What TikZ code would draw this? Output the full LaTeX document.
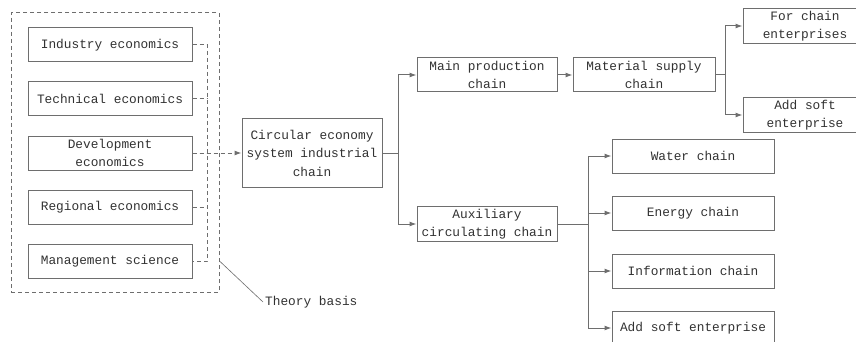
\documentclass[tikz,border=0pt]{standalone}
\usepackage{fontspec}
\setmonofont{Liberation Mono}
\usetikzlibrary{positioning,arrows.meta}
\definecolor{linegray}{RGB}{110,110,110}
\definecolor{textgray}{RGB}{50,50,50}

\begin{document}
\begin{tikzpicture}[x=1pt, y=-1pt,
  box/.style={draw=linegray, line width=1pt, minimum height=34pt, inner sep=2pt,
              align=center, text=textgray, font=\ttfamily\fontsize{12.8}{18.5}\selectfont},
  basebox/.style={box, minimum width=164pt},
  chainbox/.style={box, minimum width=140pt},
  leafbox/.style={box, minimum width=162pt},
  ln/.style={draw=linegray, line width=1pt},
  dsh/.style={ln, dash pattern=on 4pt off 3pt},
  ar/.style={ln, -{Latex[length=7pt,width=5pt]}}
]
  \useasboundingbox[fill=white] (0,0) rectangle (856,342);

  % theory basis
  \node[draw=linegray, line width=1pt, dash pattern=on 4pt off 3pt,
        minimum width=208pt, minimum height=279pt] (frame) at (115,152.5) {};
  \node[basebox] (ie) at (110,45) {Industry economics};
  \node[basebox] (te) at (110,99) {Technical economics};
  \node[basebox] (de) at (110,153) {Development\\economics};
  \node[basebox] (re) at (110,207) {Regional economics};
  \node[basebox] (ms) at (110,261) {Management science};
  \node[text=textgray, font=\ttfamily\fontsize{12.8}{15}\selectfont, anchor=west,
        inner sep=2pt] (basis) at (263,302) {Theory basis};
  \coordinate (fr) at (frame.east |- ms);

  % chains
  \node[chainbox, minimum height=68pt] (cesic) at (312,153)
    {Circular economy\\system industrial\\chain};
  \node[chainbox] (mpc) at (487,75) {Main production\\chain};
  \node[chainbox] (acc) at (487,224) {Auxiliary\\circulating chain};
  \node[box, minimum width=142pt] (msc) at (644,75) {Material supply\\chain};
  \node[box, minimum width=124pt] (fce) at (805,26) {For chain\\enterprises};
  \node[box, minimum width=124pt] (ase) at (805,115) {Add soft\\enterprise};
  \node[leafbox] (wc) at (693,156) {Water chain};
  \node[leafbox] (ec) at (693,213) {Energy chain};
  \node[leafbox] (ic) at (693,271) {Information chain};
  \node[leafbox] (asf) at (693,328) {Add soft enterprise};

  \draw[dsh] (ie.east) -- ++(15,0) |- (ms.east);
  \foreach \n in {te,de,re} \draw[dsh] (\n.east) -- ++(15,0);
  \draw[ar, dash pattern=on 4pt off 3pt] (de.east) -- (cesic.west);
  \draw[ln, line width=0.6pt] (fr) -- (basis.west);

  \draw[ln] (cesic.east) -- ++(16,0) coordinate (b1);
  \draw[ar] (b1) |- (mpc.west);
  \draw[ar] (b1) |- (acc.west);
  \draw[ar] (mpc) -- (msc);
  \draw[ln] (msc.east) -- ++(10,0) coordinate (b2);
  \draw[ar] (b2) |- (fce.west);
  \draw[ar] (b2) |- (ase.west);
  \draw[ln] (acc.east) -- ++(31,0) coordinate (b3);
  \foreach \n in {wc,ec,ic,asf} \draw[ar] (b3) |- (\n.west);
\end{tikzpicture}
\end{document}
